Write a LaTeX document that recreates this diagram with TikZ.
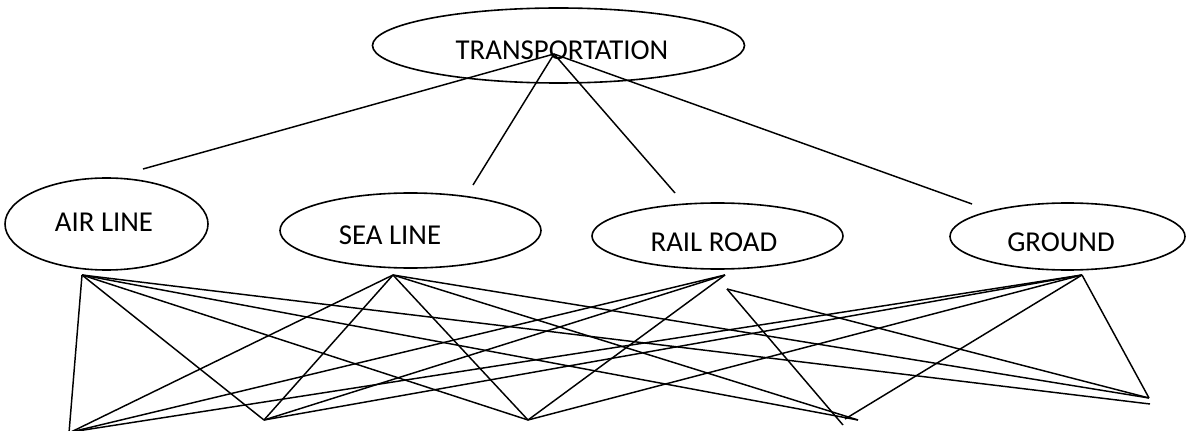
\documentclass[tikz,border=0pt]{standalone}
\usepackage{fontspec}
\setmainfont{Carlito}
\usetikzlibrary{shapes.geometric}

\begin{document}
\begin{tikzpicture}[x=0.75pt,y=-0.75pt,line width=1.1pt]
\tikzset{
  blob/.style={draw, ellipse, inner sep=0pt, line width=1.2pt},
  lbl/.style={font=\fontsize{21.6}{26}\selectfont, inner sep=0pt}
}
\useasboundingbox (0,0) rectangle (1186,431);

% ellipses and their words
\node[blob, minimum width=279pt, minimum height=56.25pt] (trans) at (558.5,45.5) {};
\node[blob, minimum width=152.25pt, minimum height=69pt] (air) at (106.5,224) {};
\node[blob, minimum width=195.75pt, minimum height=56.25pt] (sea) at (410.5,230.5) {};
\node[blob, minimum width=188.25pt, minimum height=49.5pt] (rail) at (717.5,236) {};
\node[blob, minimum width=176.25pt, minimum height=50.25pt] (ground) at (1067.5,236.5) {};

\node[lbl] (transtxt) at (562,50) {TRANSPORTATION};
\node[lbl] (airtxt) at (104,222) {AIR LINE};
\node[lbl] (seatxt) at (390,235) {SEA LINE};
\node[lbl] (railtxt) at (714,242) {RAIL ROAD};
\node[lbl] (groundtxt) at (1061,242) {GROUND};

% top fan
\coordinate (apex) at (554,54);
\coordinate (airtop) at (143,169);
\coordinate (seatop) at (473,185);
\coordinate (railtop) at (675,193);
\coordinate (groundtop) at (972,204);
\foreach \n in {air, sea, rail, ground}
  \draw (apex) -- (\n top);

% bottom fan
\coordinate (airb) at (82,275);
\coordinate (seab) at (393,275);
\coordinate (railb) at (725,275);
\coordinate (railc) at (727,289);
\coordinate (groundb) at (1082,275);

\coordinate (p1) at (71,432);
\coordinate (p1a) at (69,433);
\coordinate (p2) at (264,420);
\coordinate (p3) at (528,420);
\coordinate (p4) at (845,419);
\coordinate (p4a) at (858,420);
\coordinate (p4b) at (843,425);
\coordinate (p5) at (1149,398);
\coordinate (p5a) at (1150,404);

\foreach \s/\t in {airb/p1a, airb/p2, airb/p3, airb/p4a, airb/p5a,
                   seab/p1, seab/p2, seab/p3, seab/p4a, seab/p5,
                   railb/p1, railb/p2, railb/p3, railc/p4b, railc/p5,
                   groundb/p1, groundb/p2, groundb/p3, groundb/p4, groundb/p5}
  \draw (\s) -- (\t);
\end{tikzpicture}
\end{document}
